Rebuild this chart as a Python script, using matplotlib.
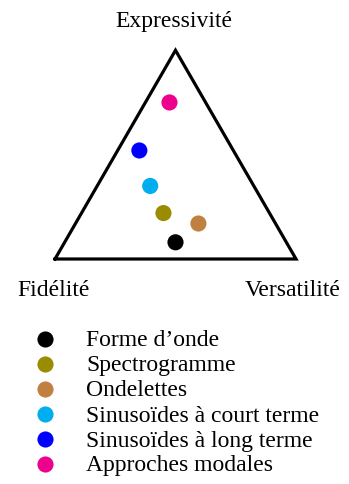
import numpy as np
import matplotlib
matplotlib.use("Agg")
import matplotlib.pyplot as plt

plt.rcParams['font.family'] = ['Liberation Serif', 'DejaVu Serif']

methods = ["Forme d’onde", "Spectrogramme", "Ondelettes",
           "Sinusoïdes à court terme", "Sinusoïdes à long terme", "Approches modales"]
colors = ["#000000", "#9a8c00", "#c08040", "#00aeef", "#0000ff", "#ec008c"]
# barycentric coordinates: (Expressivité, Fidélité, Versatilité)
expressivite = [0.08, 0.22, 0.17, 0.35, 0.52, 0.75]
fidelite     = [0.46, 0.44, 0.32, 0.43, 0.39, 0.15]
versatilite  = [0.46, 0.34, 0.51, 0.22, 0.09, 0.10]
corner_labels = ["Expressivité", "Fidélité", "Versatilité"]

W, H = 349, 484
fig = plt.figure(figsize=(W/100, H/100), dpi=100)
ax = fig.add_axes([0, 0, 1, 1])
ax.set_xlim(-55/241, (W-55)/241)
ax.set_ylim((259-H)/241, 259/241)
ax.axis('off')

def px(xp):
    return (xp-55)/241

def py(yp):
    return (259-yp)/241

h = np.sqrt(3)/2
tri = np.array([[0, 0], [1, 0], [0.5, h], [0, 0]])
ax.plot(tri[:, 0], tri[:, 1], color='black', lw=2.3, solid_joinstyle='miter', zorder=1)

e = np.array(expressivite); f = np.array(fidelite); v = np.array(versatilite)
s = e + f + v
e, f, v = e/s, f/s, v/s
x = v * 1.0 + e * 0.5
y = e * h
ax.scatter(x, y, s=135, c=colors, zorder=3, linewidths=0)

fs = 17
ax.text(px(174), py(27), corner_labels[0], ha='center', va='baseline', fontsize=fs)
ax.text(px(54), py(296), corner_labels[1], ha='center', va='baseline', fontsize=fs)
ax.text(px(293), py(296), corner_labels[2], ha='center', va='baseline', fontsize=fs)

for i, (m, c) in enumerate(zip(methods, colors)):
    yc = 339 + 25*i
    ax.scatter([px(45)], [py(yc)], s=135, c=[c], linewidths=0)
    ax.text(px(86), py(yc + 7.5), m, ha='left', va='baseline', fontsize=fs)

fig.savefig("out.png", dpi=100)
